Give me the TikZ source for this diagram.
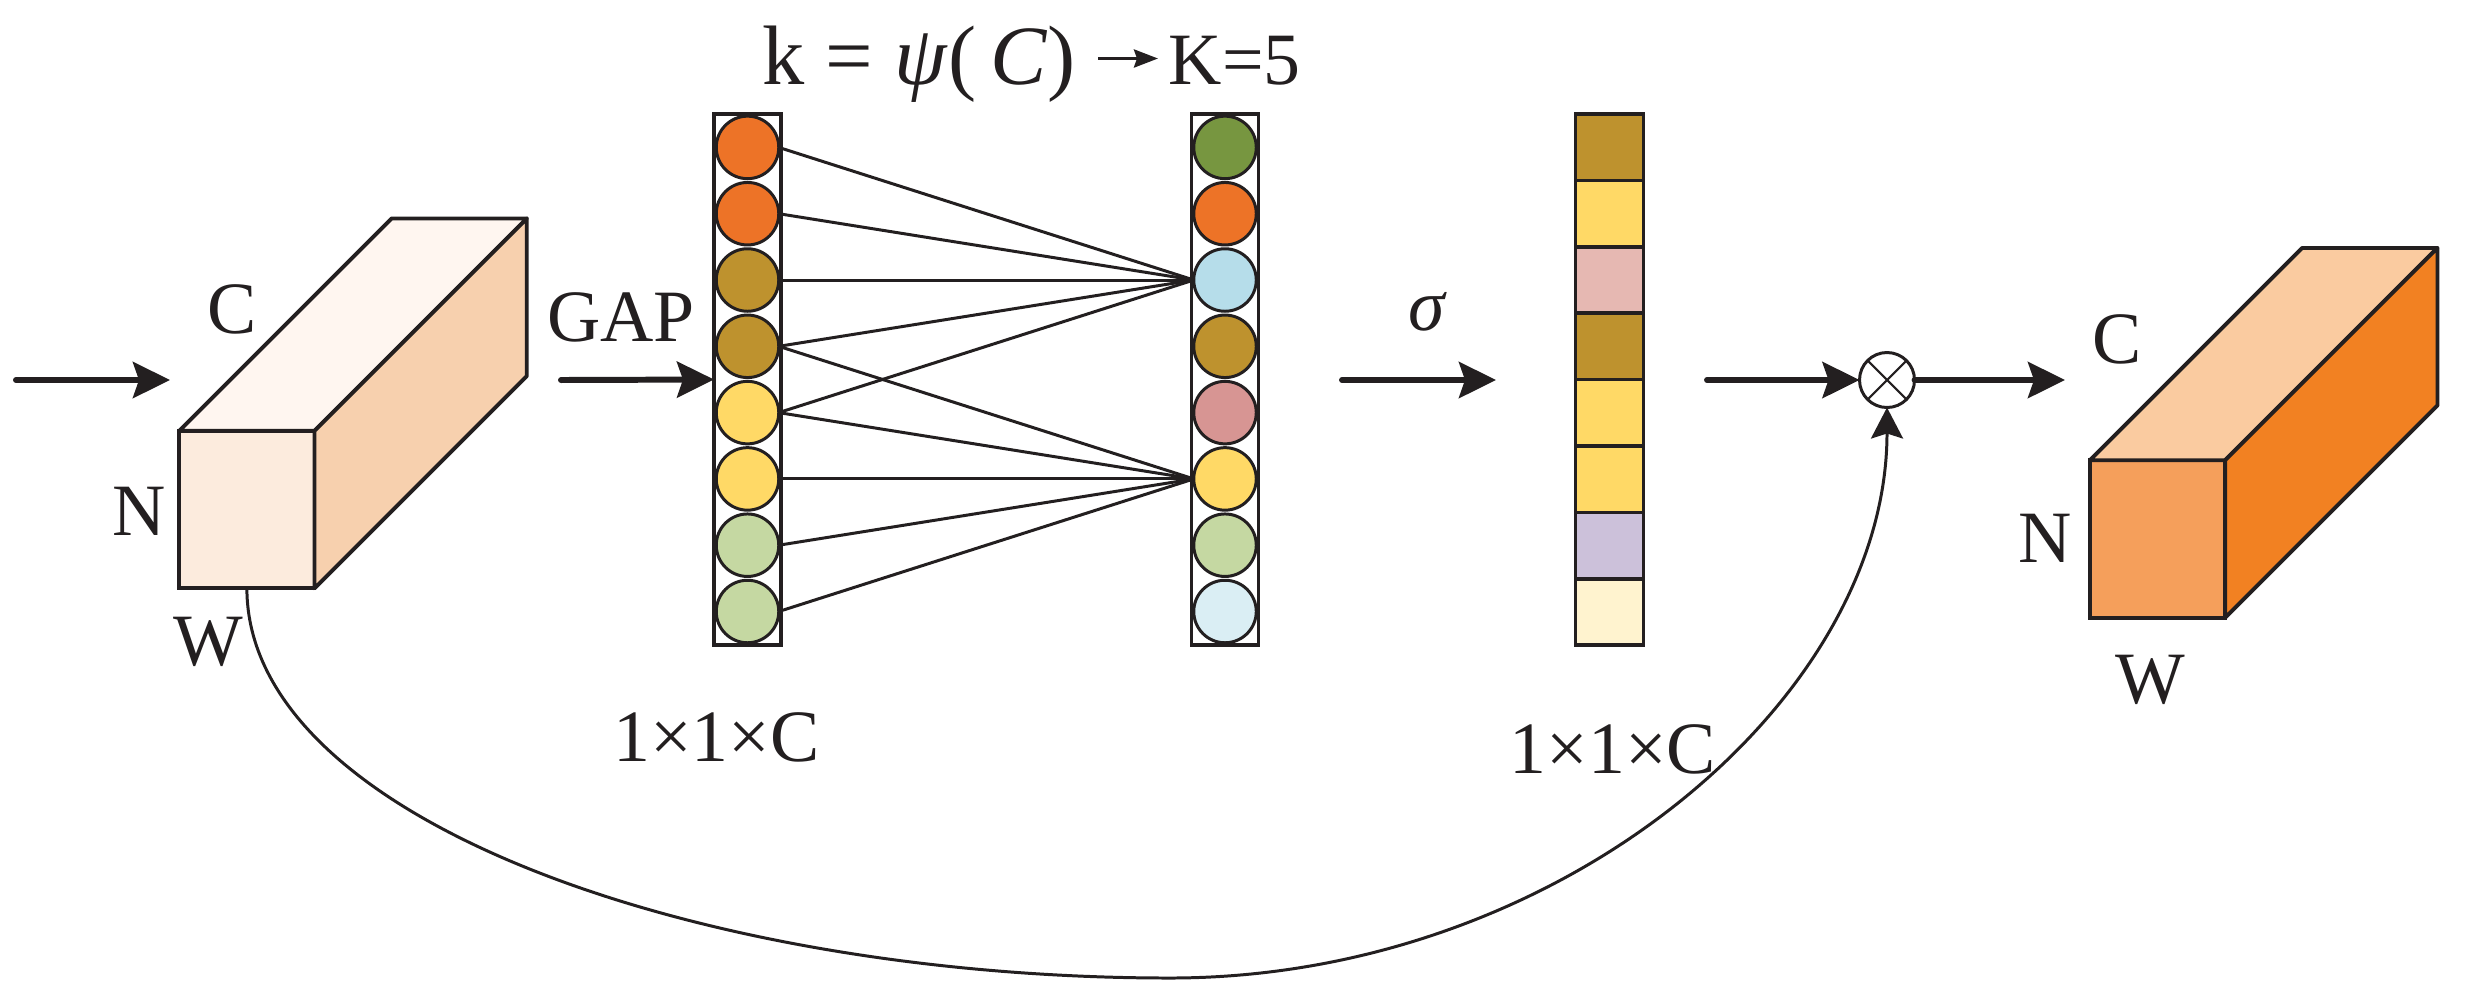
\documentclass[tikz,border=0pt]{standalone}
\usepackage{xcolor}
\usepackage{fontspec}
\setmainfont{Liberation Serif}
\usetikzlibrary{arrows.meta,positioning,calc}
\definecolor{ink}{HTML}{231F20}
\definecolor{cOrange}{HTML}{ED7327}
\definecolor{cBrown}{HTML}{BE922E}
\definecolor{cYellow}{HTML}{FFD966}
\definecolor{cGreen}{HTML}{C5D8A2}
\definecolor{cDark}{HTML}{779640}
\definecolor{cBlue}{HTML}{B6DDEA}
\definecolor{cRose}{HTML}{D79593}
\definecolor{cPale}{HTML}{DAEEF4}
\definecolor{cPink}{HTML}{E6B8B2}
\definecolor{cLilac}{HTML}{CCC1DA}
\definecolor{cCream}{HTML}{FFF3CF}
\definecolor{inFront}{HTML}{FCEBDD}
\definecolor{inTop}{HTML}{FFF6F0}
\definecolor{inSide}{HTML}{F7D0AE}
\definecolor{outFront}{HTML}{F59F5B}
\definecolor{outTop}{HTML}{FACBA0}
\definecolor{outSide}{HTML}{F28122}

\begin{document}
\begin{tikzpicture}[
    node distance=0.038cm,
    lbl/.style={font=\fontsize{21}{21}\selectfont, text=ink, inner sep=0pt},
    bar/.style={rectangle, draw=ink, line width=0.95pt, minimum width=0.67cm, minimum height=5.31cm, inner sep=0pt, outer sep=0pt},
    dot/.style={circle, draw=ink, line width=0.85pt, minimum size=0.625cm, inner sep=0pt, outer sep=0pt},
    cell/.style={rectangle, draw=ink, line width=1pt, minimum width=0.68cm, minimum height=0.664cm, inner sep=0pt, outer sep=0pt},
    face/.style={rectangle, draw=ink, line width=1.1pt, minimum width=1.352cm, minimum height=1.575cm, inner sep=0pt, outer sep=0pt},
    side/.style={draw=ink, line width=1.1pt, line join=round},
    link/.style={draw=ink, line width=0.85pt},
    arrow/.style={-{Stealth[length=0.37cm, width=0.36cm, inset=0.06cm]}, draw=ink, line width=1.7pt, line cap=round},
    thinarrow/.style={-{Stealth[length=0.31cm, width=0.32cm, inset=0.05cm]}, draw=ink, line width=0.85pt},
    titlearrow/.style={-{Stealth[length=0.24cm, width=0.18cm, inset=0.03cm]}, draw=ink, line width=1pt},
    mul/.style={circle, draw=ink, line width=0.85pt, minimum size=0.55cm, inner sep=0pt, outer sep=0pt,
        path picture={\draw[ink, line width=0.6pt] (path picture bounding box.north west) -- (path picture bounding box.south east)
            (path picture bounding box.north east) -- (path picture bounding box.south west);}}
]
\useasboundingbox (0,0) rectangle (24.69,-10.04);

% input block
\node[face, fill=inFront] (front1) at (2.469,-5.095) {};
\filldraw[side, fill=inTop] (front1.north west) -- ++(2.123,2.123) -- ++(1.352,0) -- (front1.north east) -- cycle;
\filldraw[side, fill=inSide] (front1.north east) -- ++(2.123,2.123) -- ++(0,-1.575) -- (front1.south east) -- cycle;
\node[lbl] (c1) at (2.32,-3.09) {C};
\node[lbl] (n1) at (1.39,-5.11) {N};
\node[lbl] (w1) at (2.08,-6.42) {W};

% left column
\node[bar] (bar1) at (7.475,-3.795) {};
\node[dot, fill=cOrange] (l1) at (7.475,-1.474) {};
\node[dot, fill=cOrange, below=of l1] (l2) {};
\node[dot, fill=cBrown, below=of l2] (l3) {};
\node[dot, fill=cBrown, below=of l3] (l4) {};
\node[dot, fill=cYellow, below=of l4] (l5) {};
\node[dot, fill=cYellow, below=of l5] (l6) {};
\node[dot, fill=cGreen, below=of l6] (l7) {};
\node[dot, fill=cGreen, below=of l7] (l8) {};

% right column
\node[bar] (bar2) at (12.25,-3.795) {};
\node[dot, fill=cDark] (r1) at (12.25,-1.474) {};
\node[dot, fill=cOrange, below=of r1] (r2) {};
\node[dot, fill=cBlue, below=of r2] (r3) {};
\node[dot, fill=cBrown, below=of r3] (r4) {};
\node[dot, fill=cRose, below=of r4] (r5) {};
\node[dot, fill=cYellow, below=of r5] (r6) {};
\node[dot, fill=cGreen, below=of r6] (r7) {};
\node[dot, fill=cPale, below=of r7] (r8) {};

\draw[link] (l1.east) -- (r3.west);
\draw[link] (l2.east) -- (r3.west);
\draw[link] (l3.east) -- (r3.west);
\draw[link] (l4.east) -- (r3.west);
\draw[link] (l5.east) -- (r3.west);
\draw[link] (l4.east) -- (r6.west);
\draw[link] (l5.east) -- (r6.west);
\draw[link] (l6.east) -- (r6.west);
\draw[link] (l7.east) -- (r6.west);
\draw[link] (l8.east) -- (r6.west);

% title
\node[lbl, font=\fontsize{24}{24}\selectfont, anchor=base west, inner xsep=0.22cm] (eq) at (7.40,-0.845) {k = \textit{ψ}(\,\textit{C})};
\node[lbl, anchor=base west, inner xsep=0.1cm] (kval) at (11.58,-0.845) {K=5};
\draw[titlearrow] ([yshift=0.26cm]eq.base east) -- ([yshift=0.26cm]kval.base west);

\node[lbl] (gap) at (6.21,-3.17) {GAP};
\node[lbl] (size1) at (7.165,-7.37) {1×1×C};
\node[lbl] (sigma) at (14.28,-3.12) {\textit{σ}};

% weight column
\node[cell, fill=cBrown] (w1c) at (16.094,-1.472) {};
\node[cell, fill=cYellow, below=0cm of w1c] (w2c) {};
\node[cell, fill=cPink, below=0cm of w2c] (w3c) {};
\node[cell, fill=cBrown, below=0cm of w3c] (w4c) {};
\node[cell, fill=cYellow, below=0cm of w4c] (w5c) {};
\node[cell, fill=cYellow, below=0cm of w5c] (w6c) {};
\node[cell, fill=cLilac, below=0cm of w6c] (w7c) {};
\node[cell, fill=cCream, below=0cm of w7c] (w8c) {};
\node[lbl] (size2) at (16.13,-7.49) {1×1×C};

% output block
\node[face, fill=outFront] (front2) at (21.575,-5.39) {};
\filldraw[side, fill=outTop] (front2.north west) -- ++(2.123,2.123) -- ++(1.352,0) -- (front2.north east) -- cycle;
\filldraw[side, fill=outSide] (front2.north east) -- ++(2.123,2.123) -- ++(0,-1.575) -- (front2.south east) -- cycle;
\node[lbl] (c2) at (21.17,-3.39) {C};
\node[lbl] (n2) at (20.45,-5.38) {N};
\node[lbl] (w2) at (21.50,-6.80) {W};

\node[mul] (times) at (18.87,-3.80) {};

\coordinate (a1) at (0.16,-3.80);
\coordinate (a2) at (1.70,-3.80);
\coordinate (a3) at (5.61,-3.80);
\coordinate (a4) at (13.42,-3.80);
\coordinate (a5) at (14.96,-3.80);
\coordinate (a6) at (17.07,-3.80);
\coordinate (a7) at (20.65,-3.80);
\coordinate (low) at (11.70,-9.78);
\draw[arrow] (a1) -- (a2);
\draw[arrow] (a3) -- (bar1.west);
\draw[arrow] (a4) -- (a5);
\draw[arrow] (a6) -- (times.west);
\draw[arrow] (times.east) -- (a7);
\draw[thinarrow] (front1.south) .. controls (2.469,-8.20) and (7.00,-9.78) .. (low) .. controls (15.60,-9.78) and (18.87,-7.00) .. (times.south);
\end{tikzpicture}
\end{document}
